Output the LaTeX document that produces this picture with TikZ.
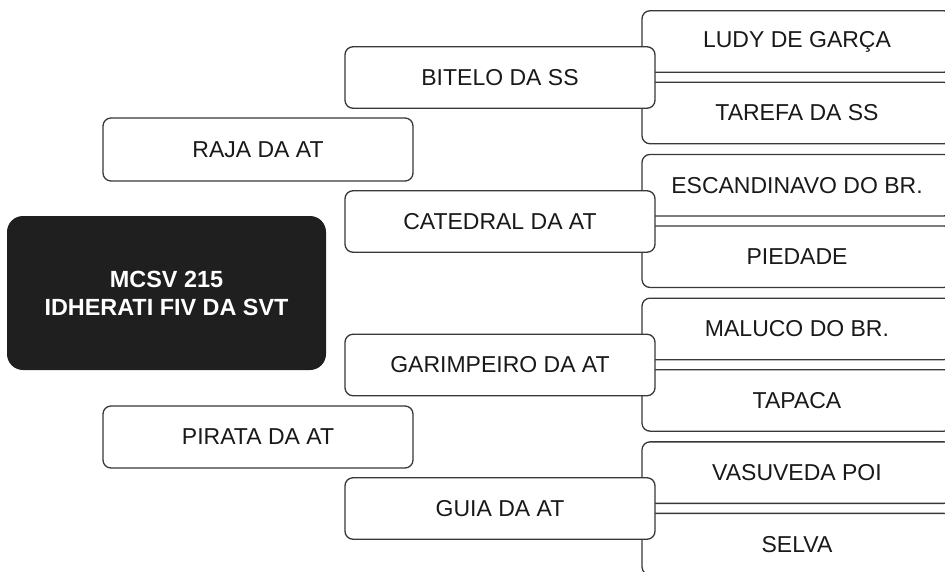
\documentclass[tikz,border=0pt]{standalone}
\usepackage{fontspec}
\setmainfont{Liberation Sans}

\begin{document}
\begin{tikzpicture}[x=1pt,y=-1pt,line width=1.3pt,
                    main node/.style={draw=black!78,fill=white,rounded corners=8pt,
                      minimum width=310pt,minimum height=61.5pt,inner sep=0pt,
                      text=black!90,font=\fontsize{23}{27}\selectfont},
                    root node/.style={fill=black!88,rounded corners=16pt,
                      minimum width=319pt,minimum height=154pt,align=center,
                      text=white,font=\fontsize{23.4}{28}\selectfont\bfseries}]

  \useasboundingbox (0,0) rectangle (945,571);
  \clip (0,0) rectangle (945,571);

  % right column, pairs
  \node[main node] (11) at (797,41.5)  {LUDY DE GARÇA};
  \node[main node] (12) at (797,113)   {TAREFA DA SS};
  \node[main node] (21) at (797,185.2) {ESCANDINAVO DO BR.};
  \node[main node] (22) at (797,256.7) {PIEDADE};
  \node[main node] (31) at (797,328.9) {MALUCO DO BR.};
  \node[main node] (32) at (797,400.4) {TAPACA};
  \node[main node] (41) at (797,472.6) {VASUVEDA POI};
  \node[main node] (42) at (797,544.1) {SELVA};

  % middle column
  \node[main node] (1) at (500,77.5)  {BITELO DA SS};
  \node[main node] (2) at (500,221.5) {CATEDRAL DA AT};
  \node[main node] (3) at (500,365)   {GARIMPEIRO DA AT};
  \node[main node] (4) at (500,508.5) {GUIA DA AT};

  % left column
  \node[main node,minimum height=63pt] (raja)   at (258,149.5) {RAJA DA AT};
  \node[main node,minimum height=62pt] (pirata) at (258,437)   {PIRATA DA AT};
  \node[root node] (root) at (166.5,293) {MCSV 215\\IDHERATI FIV DA SVT};

\end{tikzpicture}
\end{document}
